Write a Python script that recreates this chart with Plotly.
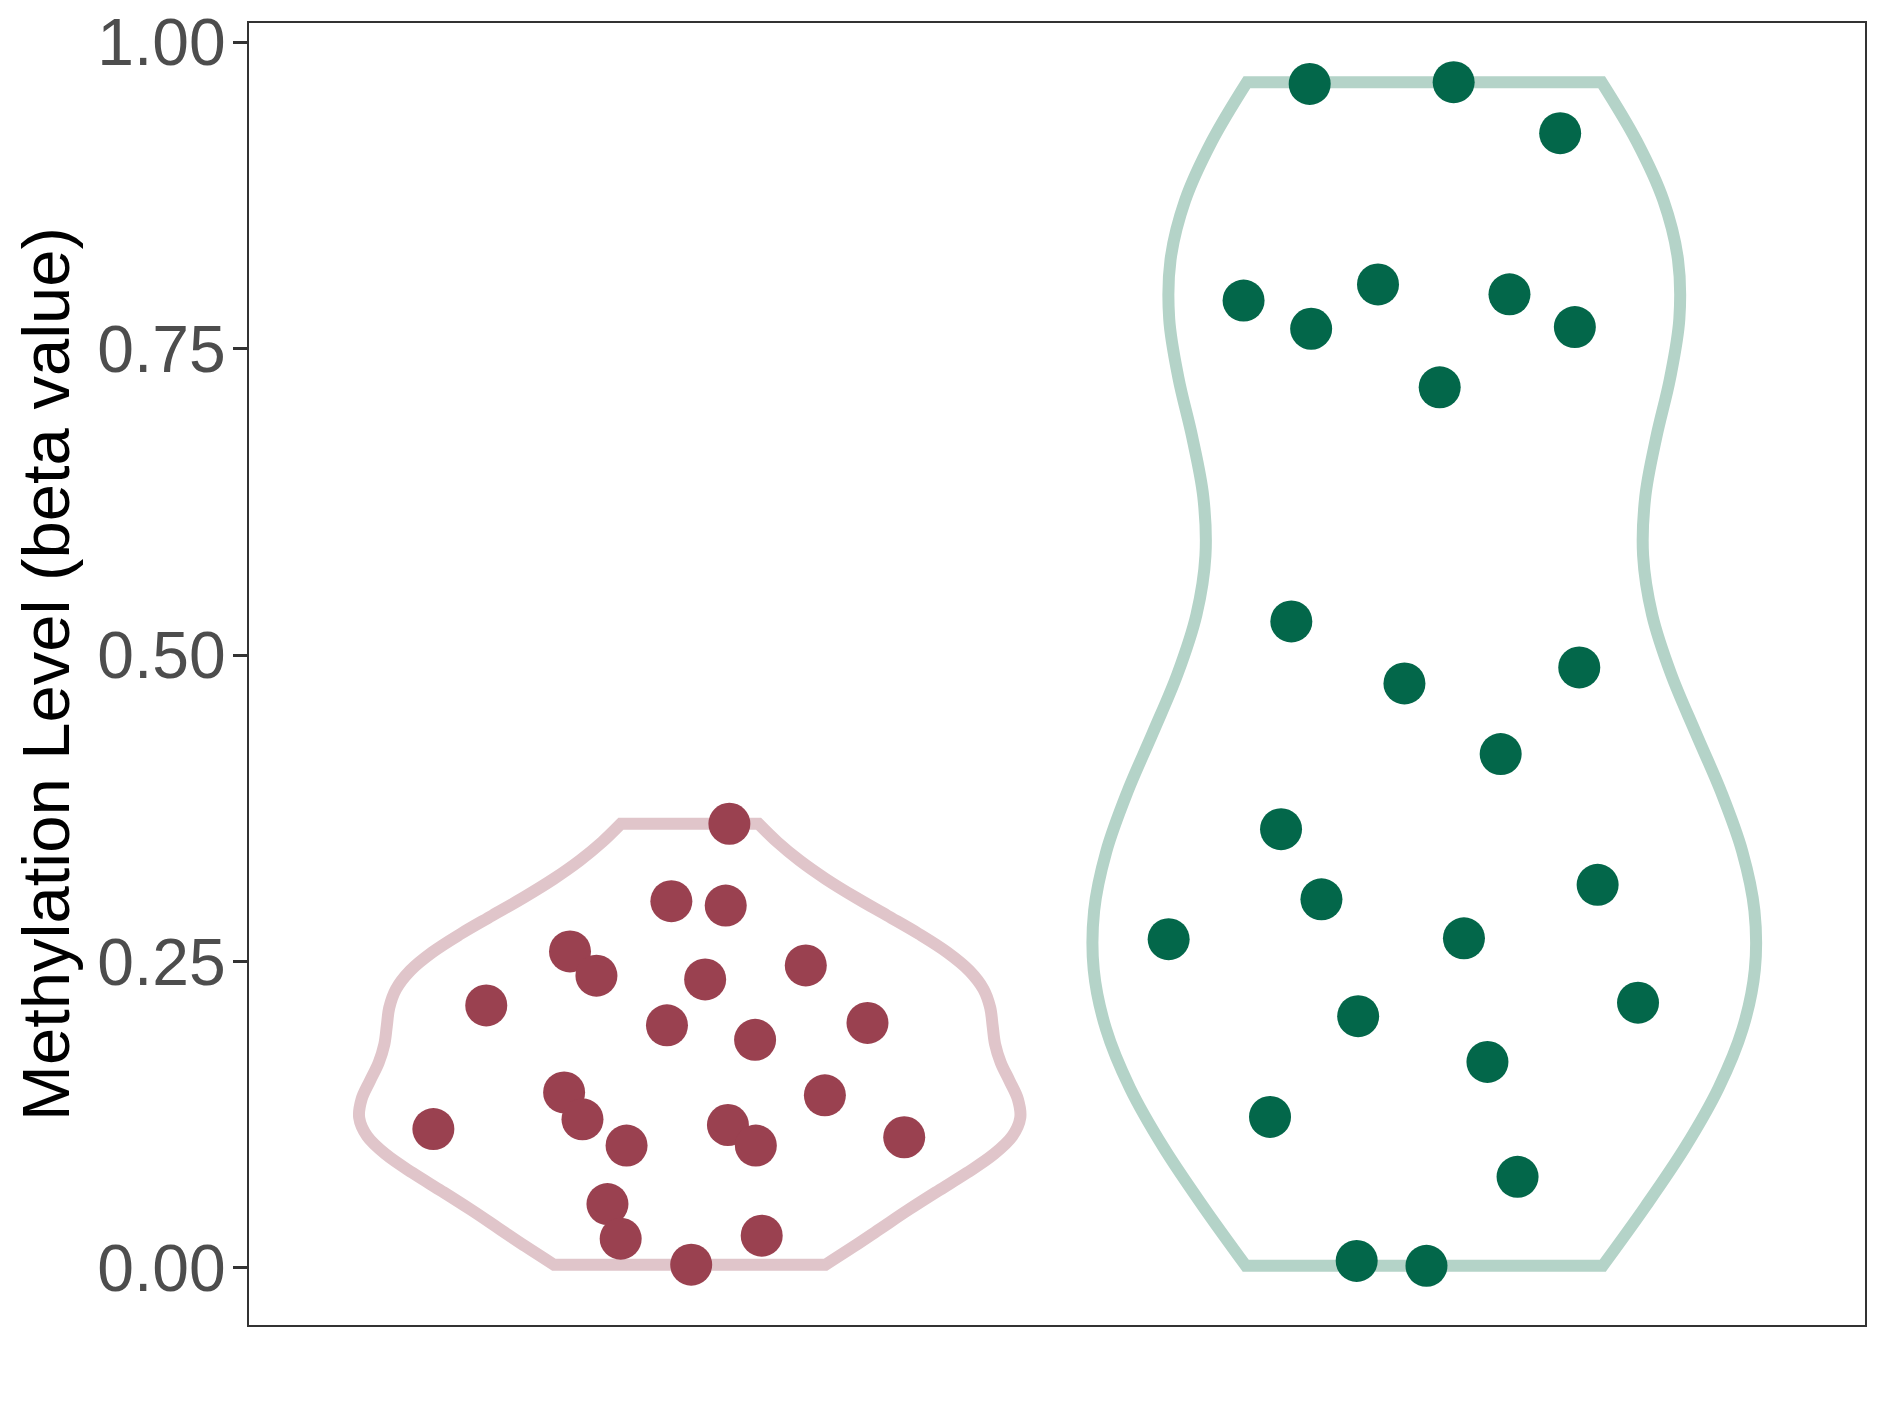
import numpy as np
import plotly.graph_objects as go

# ---- data ----
group_pos = [1, 2]

group1_values = [0.3624, 0.2992, 0.2956, 0.2582, 0.2384, 0.2354, 0.2468, 0.2142,
                 0.1979, 0.1861, 0.1999, 0.1432, 0.1212, 0.1408, 0.1133, 0.1166,
                 0.0998, 0.0998, 0.1066, 0.0521, 0.0238, 0.0263, 0.0026]
group1_jitter = [0.054, -0.025, 0.049, -0.163, -0.127, 0.021, 0.158, -0.277,
                 -0.031, 0.089, 0.242, -0.171, -0.146, 0.184, -0.349, 0.052,
                 -0.086, 0.090, 0.292, -0.112, -0.094, 0.098, 0.002]

group2_values = [0.9661, 0.9675, 0.9259, 0.7893, 0.7663, 0.8025, 0.7944, 0.7677,
                 0.7185, 0.5275, 0.4769, 0.4900, 0.4193, 0.3580, 0.3007, 0.2682,
                 0.2689, 0.3126, 0.2054, 0.2164, 0.1681, 0.1232, 0.0743, 0.0057,
                 0.0017]
group2_jitter = [-0.156, 0.040, 0.185, -0.246, -0.154, -0.063, 0.116, 0.205,
                 0.021, -0.181, -0.027, 0.211, 0.104, -0.195, -0.140, -0.348,
                 0.054, 0.236, -0.090, 0.291, 0.086, -0.210, 0.127, -0.092,
                 0.003]

y_ticks = [0.0, 0.25, 0.5, 0.75, 1.0]
y_tick_labels = ["0.00", "0.25", "0.50", "0.75", "1.00"]

line_colors = ["#E0C5CA", "#B4D3C8"]
point_colors = ["#9A4150", "#03674A"]


def bw_nrd0(v):
    v = np.asarray(v, dtype=float)
    sd = np.std(v, ddof=1)
    q75, q25 = np.percentile(v, [75, 25])
    lo = min(sd, (q75 - q25) / 1.34)
    if lo <= 0:
        lo = sd
    return 0.9 * lo * len(v) ** (-0.2)


fig = go.Figure()

groups = [(group1_values, group1_jitter), (group2_values, group2_jitter)]
for i, (vals, jit) in enumerate(groups):
    fig.add_trace(go.Violin(
        x0=group_pos[i], y=vals, orientation="v",
        points=False, width=0.9, spanmode="hard",
        bandwidth=bw_nrd0(vals), scalemode="width",
        fillcolor="rgba(255,255,255,0)",
        line=dict(color=line_colors[i], width=12),
        box_visible=False, meanline_visible=False,
        hoverinfo="skip", showlegend=False,
    ))

for i, (vals, jit) in enumerate(groups):
    fig.add_trace(go.Scatter(
        x=[group_pos[i] + j for j in jit], y=vals, mode="markers",
        marker=dict(color=point_colors[i], size=42, line=dict(width=0)),
        hoverinfo="skip", showlegend=False,
    ))

fig.update_layout(
    width=1873, height=1401,
    margin=dict(l=241, r=16, t=15, b=84),
    paper_bgcolor="white", plot_bgcolor="white",
    violinmode="overlay",
    font=dict(family="Liberation Sans, Arial, sans-serif"),
)

fig.update_xaxes(
    type="linear", range=[0.4, 2.6], automargin=False,
    showgrid=False, zeroline=False,
    showticklabels=False, ticks="",
    showline=True, mirror=True, linecolor="#333333", linewidth=2,
)

fig.update_yaxes(
    range=[-0.0466, 1.0158], automargin=False,
    tickvals=y_ticks, ticktext=y_tick_labels,
    showgrid=False, zeroline=False,
    ticks="outside", ticklen=14, tickwidth=2.5, tickcolor="#333333",
    tickfont=dict(size=66, color="#4D4D4D"),
    ticklabelstandoff=-6, ticklabeloverflow="allow",
    showline=True, mirror=True, linecolor="#333333", linewidth=2,
    title=dict(text="Methylation Level (beta value)",
               font=dict(size=67, color="black"), standoff=18),
)

fig.write_html("out.html")
